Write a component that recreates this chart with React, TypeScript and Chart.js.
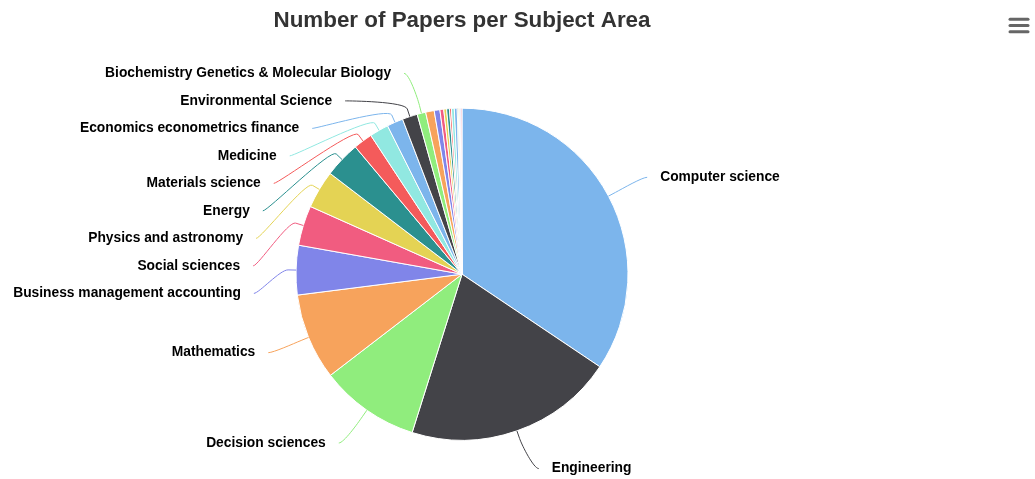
import React, { useEffect, useRef } from 'react';
import { Chart, registerables } from 'chart.js';

Chart.register(...registerables);

const TITLE = 'Number of Papers per Subject Area';

const SUBJECTS = [
  'Computer science',
  'Engineering',
  'Decision sciences',
  'Mathematics',
  'Business management accounting',
  'Social sciences',
  'Physics and astronomy',
  'Energy',
  'Materials science',
  'Medicine',
  'Economics econometrics finance',
  'Environmental Science',
  'Biochemistry Genetics & Molecular Biology',
  'Chemistry',
  'Earth and planetary sciences',
  'Chemical engineering',
  'Agricultural and biological sciences',
  'Arts and humanities',
  'Psychology',
  'Neuroscience',
  'Health professions',
  'Pharmacology toxicology',
  'Immunology and microbiology',
  'Nursing',
  'Multidisciplinary',
  'Veterinary',
];

const PAPERS = [372, 221, 105, 91, 52, 42, 40, 38, 20, 20, 17, 16, 9, 9, 6, 4, 3, 3, 2, 3, 3, 1, 1, 1, 1, 1];

const PALETTE = ['#7cb5ec', '#434348', '#90ed7d', '#f7a35c', '#8085e9', '#f15c80', '#e4d354', '#2b908f', '#f45b5b', '#91e8e1'];

// number of largest slices that get a data label (the rest are hidden like in the source)
const LABELED_COUNT = 13;

const W = 1035;
const H = 479;
const PIE_RADIUS = 166;
const FONT_FAMILY = "'Liberation Sans', Arial, Helvetica, sans-serif";
const LABEL_FONT = `bold 13.8px ${FONT_FAMILY}`;
const LABEL_OFFSET = 43;
const LABEL_TARGET_OFFSET = 40;
const LABEL_GAP = 13;
const LABEL_SPACING = 27.5;
const BREAK_OFFSET = 8;

type Item = { i: number; cos: number; sin: number; left: boolean; target: number; y: number };

function distribute(list: Item[], minY: number, maxY: number, s: number) {
  const groups: { items: Item[]; start: number }[] = list.map((it) => ({ items: [it], start: 0 }));
  const place = (g: { items: Item[]; start: number }) => {
    const n = g.items.length;
    const mean = g.items.reduce((a, it) => a + it.target, 0) / n;
    let start = mean - ((n - 1) * s) / 2;
    start = Math.max(minY, Math.min(start, maxY - (n - 1) * s));
    g.start = start;
  };
  groups.forEach(place);
  let merged = true;
  while (merged) {
    merged = false;
    for (let k = 0; k < groups.length - 1; k++) {
      const a = groups[k];
      const b = groups[k + 1];
      if (a.start + a.items.length * s > b.start + 0.01) {
        a.items = a.items.concat(b.items);
        groups.splice(k + 1, 1);
        place(a);
        merged = true;
        break;
      }
    }
  }
  groups.forEach((g) => g.items.forEach((it, k) => (it.y = g.start + k * s)));
}

const pieLabelsPlugin = {
  id: 'pieLabels',
  afterDatasetsDraw(chart: any) {
    const ctx = chart.ctx as CanvasRenderingContext2D;
    const meta = chart.getDatasetMeta(0);
    const arcs = meta.data as any[];
    if (!arcs.length) return;
    const cx = arcs[0].x;
    const cy = arcs[0].y;
    const r = arcs[0].outerRadius;
    const R = r + LABEL_OFFSET;
    const RT = r + LABEL_TARGET_OFFSET;
    const items: Item[] = [];
    const order = PAPERS.map((v, i) => i).sort((a, b) => PAPERS[b] - PAPERS[a]).slice(0, LABELED_COUNT);
    order.forEach((i) => {
      const arc = arcs[i];
      const mid = (arc.startAngle + arc.endAngle) / 2;
      const cos = Math.cos(mid);
      const sin = Math.sin(mid);
      items.push({ i, cos, sin, left: cos < 0, target: cy + RT * sin, y: 0 });
    });
    const minY = chart.chartArea.top + 4;
    const maxY = chart.height - 9;
    [true, false].forEach((side) => {
      const list = items.filter((it) => it.left === side).sort((a, b) => a.target - b.target);
      distribute(list, minY, maxY, LABEL_SPACING);
    });

    ctx.save();
    ctx.font = LABEL_FONT;
    ctx.textBaseline = 'middle';
    items.forEach((it) => {
      const color = PALETTE[it.i % PALETTE.length];
      const sign = it.left ? -1 : 1;
      const dy = it.y - cy;
      const dx = Math.sqrt(Math.max(0, R * R - dy * dy));
      const ex = cx + sign * dx;
      const tx = cx + r * it.cos;
      const ty = cy + r * it.sin;
      const bx = cx + (r + BREAK_OFFSET) * it.cos;
      const by = cy + (r + BREAK_OFFSET) * it.sin;
      ctx.beginPath();
      ctx.moveTo(ex, it.y);
      ctx.bezierCurveTo(ex - sign * 5, it.y, 2 * bx - tx, 2 * by - ty, bx, by);
      ctx.lineTo(tx, ty);
      ctx.strokeStyle = color;
      ctx.lineWidth = 1;
      ctx.stroke();

      ctx.textAlign = it.left ? 'right' : 'left';
      ctx.fillStyle = '#000000';
      ctx.fillText(SUBJECTS[it.i], ex + sign * LABEL_GAP, it.y);
    });
    ctx.restore();
  },
  afterDraw(chart: any) {
    const ctx = chart.ctx as CanvasRenderingContext2D;
    ctx.save();
    ctx.strokeStyle = '#666666';
    ctx.lineWidth = 3;
    ctx.lineCap = 'round';
    [19.3, 25.5, 31.7].forEach((y) => {
      ctx.beginPath();
      ctx.moveTo(1010, y);
      ctx.lineTo(1028, y);
      ctx.stroke();
    });
    ctx.restore();
  },
};

export default function App() {
  const canvasRef = useRef<HTMLCanvasElement | null>(null);

  useEffect(() => {
    if (!canvasRef.current) return;
    const chart = new Chart(canvasRef.current, {
      type: 'pie',
      data: {
        labels: SUBJECTS,
        datasets: [
          {
            data: PAPERS,
            backgroundColor: SUBJECTS.map((_, i) => PALETTE[i % PALETTE.length]),
            borderColor: '#ffffff',
            borderWidth: 1,
            radius: PIE_RADIUS,
          } as any,
        ],
      },
      options: {
        responsive: false,
        animation: false,
        layout: { padding: { left: 0, right: 111, top: 0, bottom: 0 } },
        plugins: {
          legend: { display: false },
          title: {
            display: true,
            text: TITLE,
            color: '#333333',
            font: { family: FONT_FAMILY, size: 22.4, weight: 'bold', lineHeight: 1.2 },
            padding: { top: 7, bottom: 35.5 },
          },
        },
      } as any,
      plugins: [pieLabelsPlugin],
    });
    return () => chart.destroy();
  }, []);

  return (
    <div style={{ position: 'absolute', left: 0, top: 0, width: W, height: H, background: '#ffffff' }}>
      <canvas ref={canvasRef} width={W} height={H} style={{ display: 'block' }} />
    </div>
  );
}
